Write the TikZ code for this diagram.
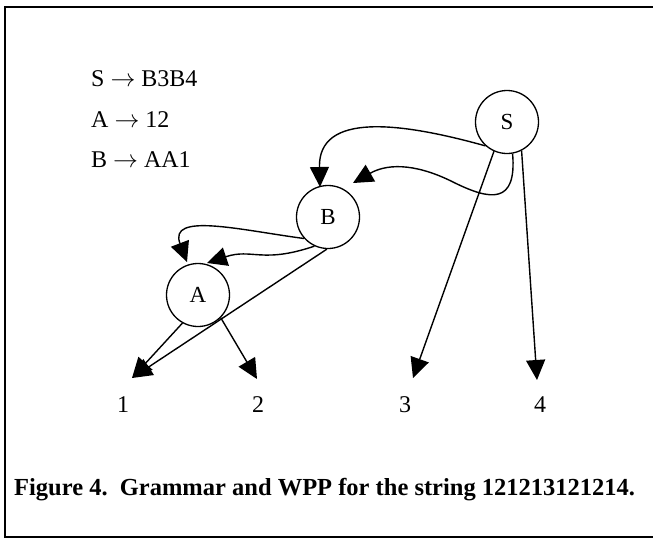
\documentclass[tikz,border=0pt]{standalone}
\usepackage{fontspec}
\setmainfont{Liberation Serif}
\usetikzlibrary{arrows.meta}
\tikzset{
  state/.style={circle, draw, line width=1.3pt, minimum size=63pt, inner sep=0pt, font=\fontsize{23}{27}\selectfont},
  conn/.style={line width=1.4pt, -{Triangle[length=20pt,width=19pt]}},
  lab/.style={font=\fontsize{24}{28}\selectfont, inner sep=0pt},
  gram/.style={font=\fontsize{24}{28}\selectfont, anchor=west, inner sep=0pt},
}
\begin{document}
\begin{tikzpicture}[x=1pt, y=-1pt]
\useasboundingbox (0,0) rectangle (653,539);
% frame
\draw[line width=2.4pt] (653,7) -- (5,7) -- (5,537) -- (653,537);
% grammar
\node[gram] (g1) at (91,79) {S $\rightarrow$ B3B4};
\node[gram] (g2) at (91,120) {A $\rightarrow$ 12};
\node[gram] (g3) at (91,160) {B $\rightarrow$ AA1};
% nodes
\node[state] (S) at (507,122) {S};
\node[state] (B) at (328,217) {B};
\node[state] (A) at (198,295) {A};
% terminals
\node[lab] (n1) at (123,405) {1};
\node[lab] (n2) at (258,405) {2};
\node[lab] (n3) at (405,405) {3};
\node[lab] (n4) at (540,405) {4};
\coordinate (t1) at (132,378);
\coordinate (t2) at (257,379);
\coordinate (t3) at (413,378);
\coordinate (t4) at (537,380);
\coordinate (tb1) at (320,187);
\coordinate (tb2) at (353,183);
\coordinate (ta1) at (187,262);
\coordinate (ta2) at (207,263);
% S edges
\draw[conn] (S.228) .. controls (400,122) and (318,112) .. (tb1);
\draw[conn] (S.280) .. controls (517,205) and (490,200) .. (455,183) .. controls (420,165) and (390,162) .. (tb2);
\draw[conn] (S.246) -- (t3);
\draw[conn] (S.297) -- (t4);
% B edges
\draw[conn] (B.222) .. controls (240,230) and (168,212) .. (ta1);
\draw[conn] (B.245) .. controls (262,264) and (252,248) .. (ta2);
\draw[conn] (B.268) -- (t1);
% A edges
\draw[conn] (A.241) -- (t1);
\draw[conn] (A.315) -- (t2);
% caption
\node[font=\fontsize{24.5}{28}\selectfont\bfseries, anchor=west, inner sep=0pt] (cap) at (14,490) {Figure 4.\ \ Grammar and WPP for the string 121213121214.};
\end{tikzpicture}
\end{document}
